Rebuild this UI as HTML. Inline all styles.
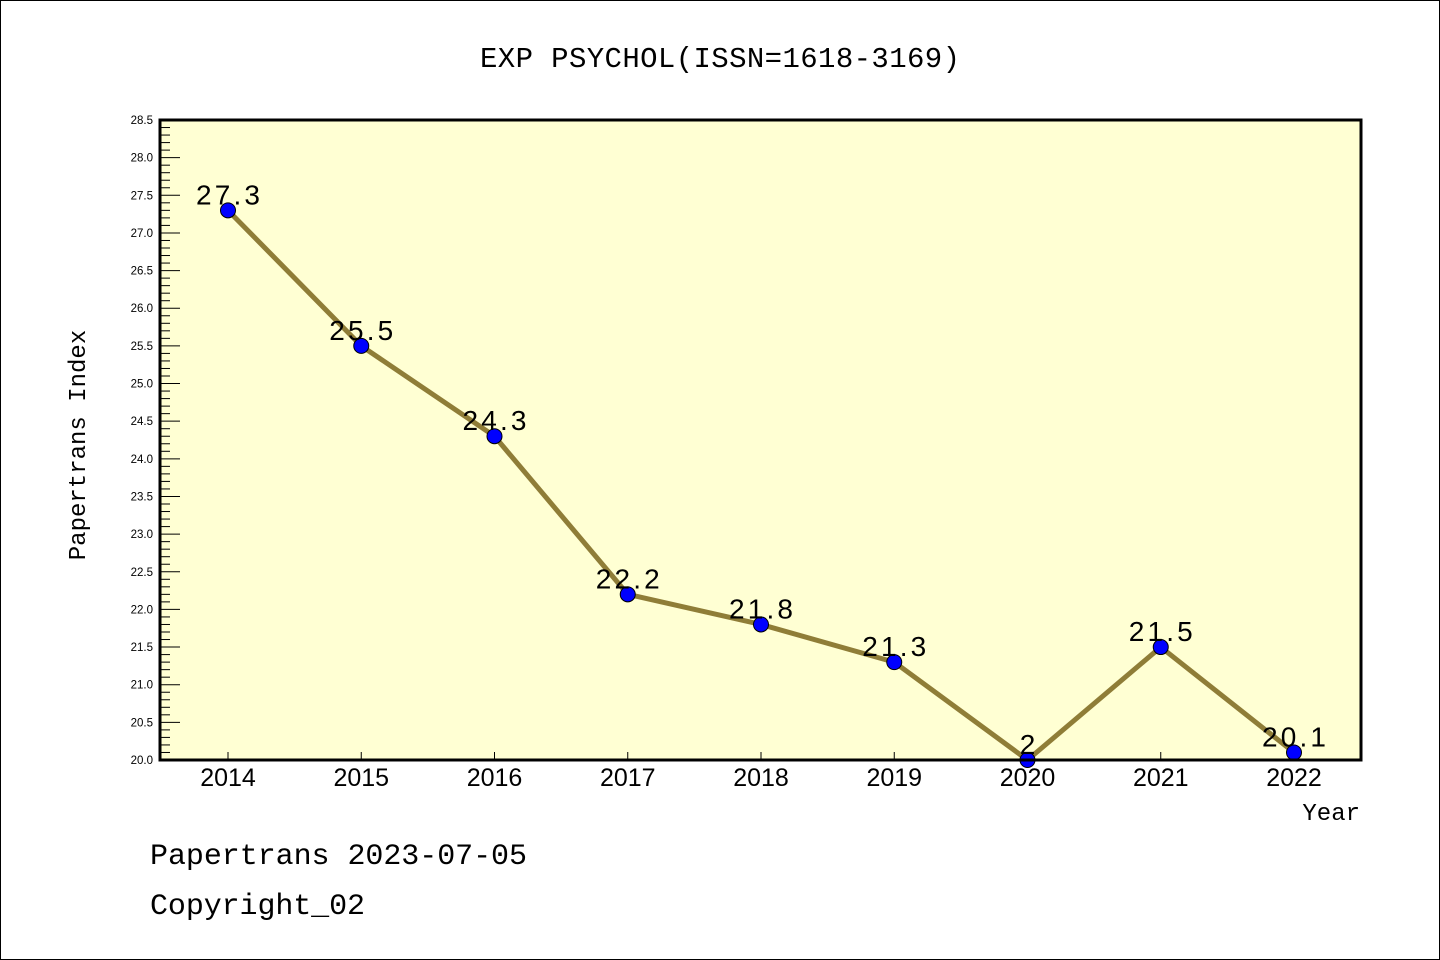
<!DOCTYPE html>
<html><head><meta charset="utf-8"><style>
html,body{margin:0;padding:0;background:#fff}
svg{display:block;font-family:"Liberation Sans","DejaVu Sans",sans-serif}
.mono{font-family:"Liberation Mono","DejaVu Sans Mono",monospace}
</style></head><body>
<svg id="chart" width="1440" height="960" xmlns="http://www.w3.org/2000/svg">
<rect x="0.5" y="0.5" width="1439" height="959" fill="#fff" stroke="#000"/>
<text class="mono" x="720" y="67" text-anchor="middle" font-size="29" textLength="480">EXP PSYCHOL(ISSN=1618-3169)</text>
<rect x="160" y="120" width="1201" height="640" fill="#ffffd3"/>
<g id="yaxis"></g>
<g id="xaxis"></g>
<g id="series"></g>
<rect x="160" y="120" width="1201" height="640" fill="none" stroke="#000" stroke-width="3"/>
<text class="mono" transform="translate(85,445) rotate(-90)" text-anchor="middle" font-size="24">Papertrans Index</text>
<text class="mono" x="1360" y="820" text-anchor="end" font-size="24">Year</text>
<text class="mono" x="150" y="864" font-size="30" textLength="377">Papertrans 2023-07-05</text>
<text class="mono" x="150" y="914" font-size="30" textLength="215">Copyright_02</text>
</svg>
<script>
const years = ["2014","2015","2016","2017","2018","2019","2020","2021","2022"];
const values = [27.3,25.5,24.3,22.2,21.8,21.3,20.0,21.5,20.1];
const valueLabels = ["27.3","25.5","24.3","22.2","21.8","21.3","2","21.5","20.1"];
const yTickLabels = ["20.0","20.5","21.0","21.5","22.0","22.5","23.0","23.5","24.0","24.5","25.0","25.5","26.0","26.5","27.0","27.5","28.0","28.5"];
const NS="http://www.w3.org/2000/svg";
const yMin=20, yMax=28.5, plotTop=120, plotBot=760, x0=228, dx=133.25;
const yS=v=>plotBot-(v-yMin)/(yMax-yMin)*(plotBot-plotTop);
const xS=i=>x0+i*dx;
function mk(t,a,p){const e=document.createElementNS(NS,t);for(const k in a)e.setAttribute(k,a[k]);p.appendChild(e);return e;}
const ya=document.getElementById('yaxis');
for(let k=0;k<=85;k++){const v=yMin+k*0.1;const y=yS(v);const major=k%5===0;
 const l=mk('line',{x1:160,x2:160+(major?20:10),y1:y,y2:y,stroke:'#000','stroke-width':1},ya);
 
 }
yTickLabels.forEach(s=>{const t=mk('text',{x:153,y:yS(parseFloat(s))+4,'text-anchor':'end','font-size':11.5},ya);t.textContent=s;
 
 });
const xa=document.getElementById('xaxis');
years.forEach((yr,i)=>{const l=mk('line',{x1:xS(i),x2:xS(i),y1:760,y2:752,stroke:'#000'},xa);
 
 
 const t=mk('text',{x:xS(i),y:786,'text-anchor':'middle','font-size':25},xa);t.textContent=yr;
 
 });
const se=document.getElementById('series');
const pl=mk('polyline',{points:values.map((v,i)=>xS(i)+','+yS(v)).join(' '),fill:'none',stroke:'#8f7d37','stroke-width':5,'stroke-linejoin':'round'},se);


values.forEach((v,i)=>{const c=mk('circle',{cx:xS(i),cy:yS(v),r:7.5,fill:'#0000ff',stroke:'#000','stroke-width':1},se);
 
 
 const t=mk('text',{x:xS(i),y:yS(v)-6,'text-anchor':'middle','font-size':28},se);t.textContent=valueLabels[i];
 if(valueLabels[i].length>2)t.setAttribute('textLength','64');
 
 });
</script>
</body></html>
